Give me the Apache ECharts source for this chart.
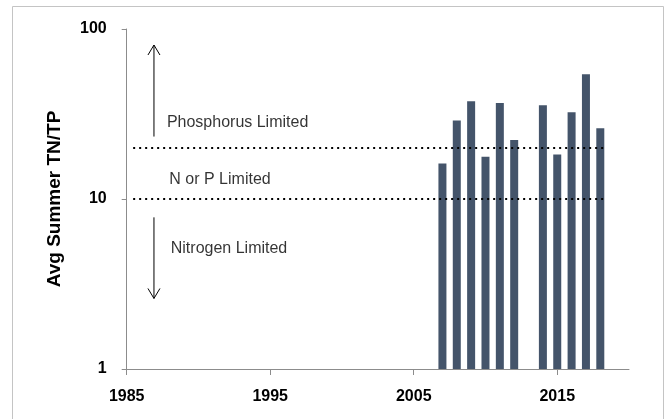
<!DOCTYPE html>
<html>
<head>
<meta charset="utf-8">
<script src="https://cdn.jsdelivr.net/npm/echarts@6/dist/echarts.min.js"></script>
<style>
html,body{margin:0;padding:0;background:#fff;}
#chart{width:670px;height:419px;}
</style>
</head>
<body>
<div id="chart"></div>
<script>
// ---- data ----
var years = [2007, 2008, 2009, 2010, 2011, 2012, 2014, 2015, 2016, 2017, 2018];
var ratios = [16.2, 29.0, 37.6, 17.7, 36.7, 22.2, 35.6, 18.3, 32.4, 54.2, 26.1];
var xTickYears = [1985, 1995, 2005, 2015];
var yTicks = [1, 10, 100];
var thresholdValues = [20, 10];
var thresholdSpan = [1985.45, 2018.4];
var arrowYear = [1986.9, 1986.9];
var arrowFrom = [23.3, 7.8];
var arrowTo = [80.5, 2.6];
var labelTexts = ['Phosphorus Limited', 'N or P Limited', 'Nitrogen Limited'];
var labelYears = [1987.8, 1987.97, 1988.07];
var labelValues = [28.1, 13.06, 5.08];

var FONT = 'Liberation Sans';

var barData = years.map(function (y, i) { return [y, ratios[i]]; });
var arrowData = arrowYear.map(function (x, i) { return [x, arrowFrom[i], arrowTo[i]]; });
var labelData = labelTexts.map(function (t, i) { return { name: t, value: [labelYears[i], labelValues[i]] }; });
var thresholdLines = thresholdValues.map(function (v) {
  return [{ coord: [thresholdSpan[0], v] }, { coord: [thresholdSpan[1], v] }];
});

var chart = echarts.init(document.getElementById('chart'), null, { renderer: 'canvas' });
chart.setOption({
  animation: false,
  backgroundColor: '#ffffff',
  graphic: [{
    type: 'rect',
    shape: { x: 12.5, y: 6.5, width: 651, height: 430 },
    style: { fill: 'none', stroke: '#c4c4c4', lineWidth: 1 },
    z: 0
  }],
  grid: { left: 126.7, right: 41, top: 29, bottom: 50, containLabel: false },
  xAxis: {
    type: 'value',
    min: 1985,
    max: 2020,
    axisLine: { show: true, lineStyle: { color: '#8c8c8c', width: 1 } },
    axisTick: { show: true, customValues: xTickYears, length: 6, lineStyle: { color: '#8c8c8c' } },
    axisLabel: {
      customValues: xTickYears,
      margin: 20,
      fontFamily: FONT,
      fontWeight: 'bold',
      fontSize: 16,
      color: '#000',
      formatter: function (v) { return String(v); }
    },
    splitLine: { show: false }
  },
  yAxis: {
    type: 'log',
    logBase: 10,
    min: 1,
    max: 100,
    name: 'Avg Summer TN/TP',
    nameLocation: 'middle',
    nameGap: 62,
    nameTextStyle: { fontFamily: FONT, fontWeight: 'bold', fontSize: 19, color: '#000' },
    axisLine: { show: true, lineStyle: { color: '#8c8c8c', width: 1 } },
    axisTick: { show: true, length: 5, lineStyle: { color: '#8c8c8c' } },
    axisLabel: {
      margin: 20,
      fontFamily: FONT,
      fontWeight: 'bold',
      fontSize: 16,
      color: '#000',
      formatter: function (v) { return String(Math.round(v)); }
    },
    splitLine: { show: false },
    minorTick: { show: false }
  },
  series: [
    {
      type: 'bar',
      data: barData,
      barWidth: 8,
      itemStyle: { color: '#44546A' },
      markLine: {
        silent: true,
        symbol: ['none', 'none'],
        label: { show: false },
        lineStyle: { color: '#000', width: 2, type: [2, 4] },
        data: thresholdLines
      },
      z: 2
    },
    {
      type: 'custom',
      data: arrowData,
      silent: true,
      renderItem: function (params, api) {
        var x = api.value(0);
        var p0 = api.coord([x, api.value(1)]);
        var p1 = api.coord([x, api.value(2)]);
        var dir = p1[1] < p0[1] ? 1 : -1;
        var hl = 10, hw = 6;
        return {
          type: 'group',
          children: [
            { type: 'line', shape: { x1: p0[0], y1: p0[1], x2: p1[0], y2: p1[1] }, style: { stroke: '#000', lineWidth: 1 } },
            { type: 'polyline', shape: { points: [[p1[0] - hw, p1[1] + dir * hl], [p1[0], p1[1]], [p1[0] + hw, p1[1] + dir * hl]] }, style: { stroke: '#000', fill: 'none', lineWidth: 1 } }
          ]
        };
      },
      z: 3
    },
    {
      type: 'scatter',
      data: labelData,
      symbolSize: 0,
      silent: true,
      label: {
        show: true,
        position: 'right',
        distance: 0,
        formatter: function (p) { return p.name; },
        fontFamily: FONT,
        fontSize: 16,
        color: '#000'
      },
      z: 4
    }
  ]
});
</script>
</body>
</html>
